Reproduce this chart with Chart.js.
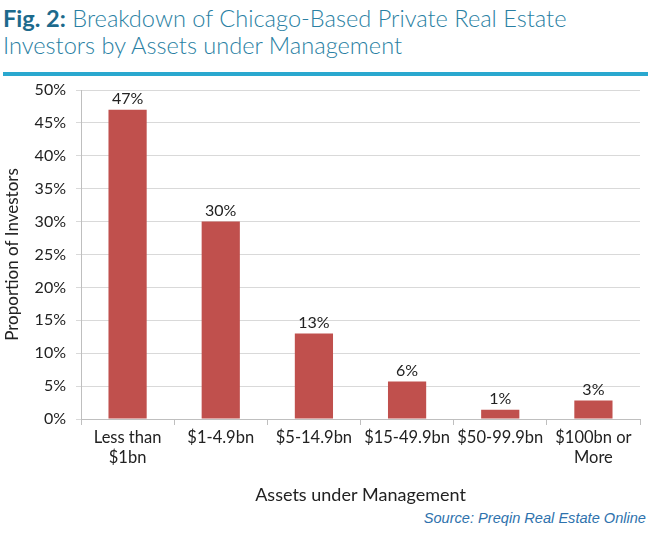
<!DOCTYPE html>
<html>
<head>
<meta charset="utf-8">
<script src="https://cdn.jsdelivr.net/npm/chart.js@4"></script>
<style>
  body { margin: 0; background: #fff; width: 650px; height: 533px; position: relative; overflow: hidden; font-family: "Lato", sans-serif; }
  #title { position: absolute; left: 3px; top: 5px; font-size: 23.6px; line-height: 27px; color: #2a7fa3; font-weight: 300; }
  #title b { color: #1c6a8c; font-weight: bold; }
  #rule { position: absolute; left: 3px; top: 72px; width: 645px; height: 4px; background: #2aa8cf; }
  #wrap { position: absolute; left: 0; top: 80px; width: 650px; height: 430px; }
  #source { position: absolute; right: 4px; top: 510px; font-family: "Liberation Sans", Arial, sans-serif; font-style: italic; font-size: 14.6px; color: #2e72ad; }
</style>
</head>
<body>
<div id="title"><b>Fig. 2:</b> Breakdown of Chicago-Based Private Real Estate<br>Investors by Assets under Management</div>
<div id="rule"></div>
<div id="wrap"><canvas id="chart"></canvas></div>
<div id="source">Source: Preqin Real Estate Online</div>
<script>
const categories = [["Less than", "$1bn"], "$1-4.9bn", "$5-14.9bn", "$15-49.9bn", "$50-99.9bn", ["$100bn or", "More"]];
const shares = [47, 30, 13, 5.7, 1.4, 2.8];
const shareLabels = ["47%", "30%", "13%", "6%", "1%", "3%"];

const barLabels = {
  id: "barLabels",
  afterDatasetsDraw(chart) {
    const ctx = chart.ctx;
    const meta = chart.getDatasetMeta(0);
    ctx.save();
    ctx.font = "16px Lato, sans-serif";
    ctx.fillStyle = "#222";
    ctx.textAlign = "center";
    ctx.textBaseline = "bottom";
    meta.data.forEach((bar, i) => {
      ctx.fillText(shareLabels[i], bar.x, bar.y - 3);
    });
    ctx.restore();
  }
};

new Chart(document.getElementById("chart"), {
  type: "bar",
  data: {
    labels: categories,
    datasets: [{
      data: shares,
      backgroundColor: "#c0504d",
      borderColor: "#c0504d",
      barPercentage: 0.82,
      categoryPercentage: 0.5
    }]
  },
  options: {
    responsive: true,
    maintainAspectRatio: false,
    animation: false,
    layout: { padding: { top: 10, right: 10, left: 0, bottom: 0 } },
    plugins: { legend: { display: false }, tooltip: { enabled: false } },
    scales: {
      x: {
        grid: { offset: true, drawOnChartArea: false, drawTicks: true, tickLength: 6, color: "#bfbfbf" },
        border: { color: "#bfbfbf" },
        ticks: { color: "#222", font: { family: "Lato", size: 16.5 }, maxRotation: 0, autoSkip: false, padding: 3 },
        title: { display: true, text: "Assets under Management", color: "#222", font: { family: "Lato", size: 18 }, padding: { top: 14 } },
        afterFit(scale) { scale.height = 91; scale.paddingLeft = 0; scale.paddingRight = 0; }
      },
      y: {
        min: 0,
        max: 50,
        ticks: { stepSize: 5, color: "#222", font: { family: "Lato", size: 16 }, padding: 10, callback: v => v + "%" },
        grid: { color: "#d9d9d9", tickLength: 5 },
        border: { color: "#bfbfbf" },
        title: { display: true, text: "Proportion of Investors", color: "#222", font: { family: "Lato", size: 17 }, padding: { top: 2, bottom: 0 } },
        afterFit(scale) { scale.width = 81; scale.paddingTop = 0; scale.paddingBottom = 0; }
      }
    }
  },
  plugins: [barLabels]
});
</script>
</body>
</html>
